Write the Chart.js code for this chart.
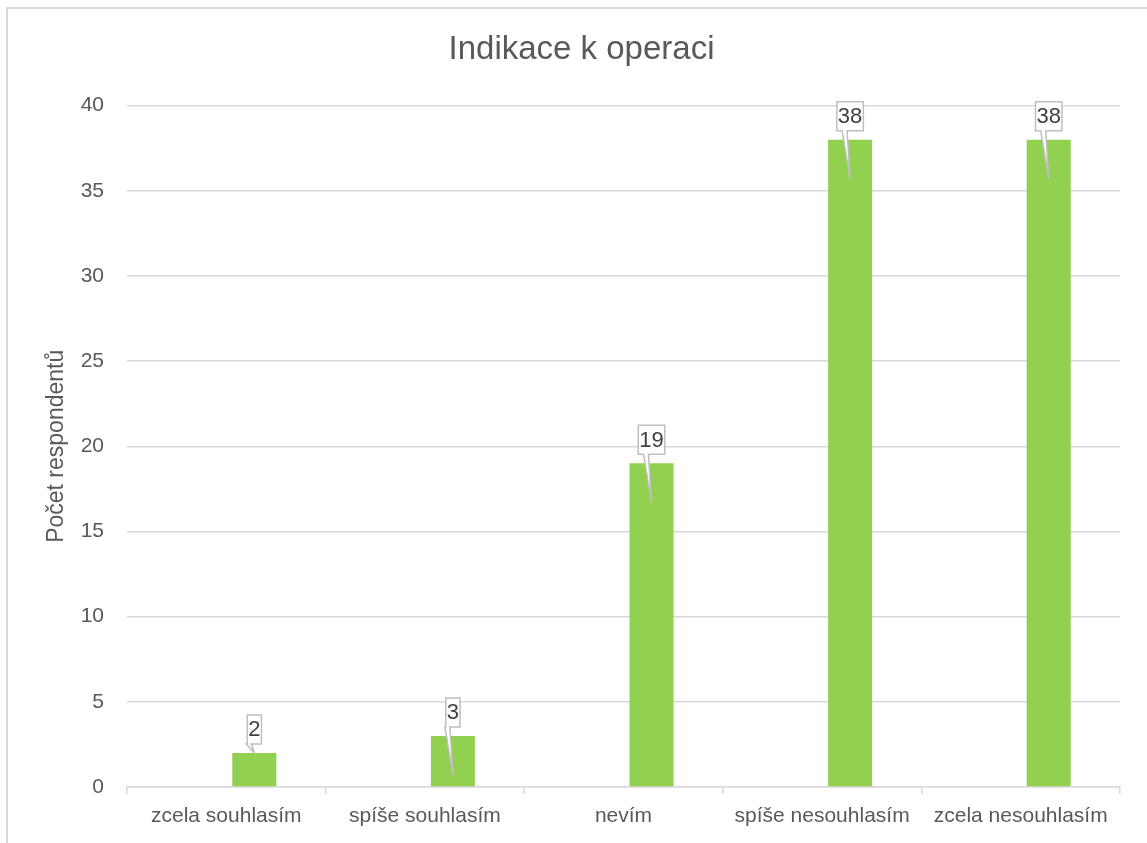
<!DOCTYPE html>
<html>
<head>
<meta charset="utf-8">
<title>Indikace k operaci</title>
<script src="https://cdn.jsdelivr.net/npm/chart.js@4.4.1/dist/chart.umd.min.js"></script>
<style>
  html, body { margin: 0; padding: 0; background: #fff; overflow: hidden; }
  #box { position: absolute; left: 0; top: 0; width: 1147px; height: 843px; }
</style>
</head>
<body>
<div id="box"><canvas id="chart1"></canvas></div>
<script>
var categories = ["zcela souhlasím", "spíše souhlasím", "nevím", "spíše nesouhlasím", "zcela nesouhlasím"];
var respondents = [2, 3, 19, 38, 38];
var emptySeries = [null, null, null, null, null];
var yTicks = [0, 5, 10, 15, 20, 25, 30, 35, 40];

var textColor = "#595959";
var gridColor = "#d9d9d9";
var fontName = "'Liberation Sans', Arial, sans-serif";

// white page + light frame round the chart
var framePlugin = {
  id: "frame",
  beforeDraw: function(chart) {
    var ctx = chart.ctx;
    ctx.save();
    ctx.fillStyle = "#fff";
    ctx.fillRect(0, 0, chart.width, chart.height);
    ctx.strokeStyle = gridColor;
    ctx.lineWidth = 2;
    ctx.strokeRect(7, 8, chart.width + 50, chart.height + 50);
    ctx.restore();
  }
};

// value callouts: box above the bar with a thin tail pointing into it
var calloutPlugin = {
  id: "callouts",
  afterDatasetsDraw: function(chart) {
    var ctx = chart.ctx;
    var meta = chart.getDatasetMeta(1);
    ctx.save();
    ctx.font = "22px " + fontName;
    meta.data.forEach(function(bar, i) {
      var txt = String(chart.data.datasets[1].data[i]);
      var w = ctx.measureText(txt).width + 2;
      var h = 29;
      var cx = bar.x;
      var bottom = bar.y - 9;
      var top = bottom - h;
      var left = cx - w / 2;
      var right = cx + w / 2;
      var tipY = (bar.base - bar.y > 50) ? bar.y + 39 : bar.y;

      ctx.beginPath();
      ctx.moveTo(left, top);
      ctx.lineTo(right, top);
      ctx.lineTo(right, bottom);
      ctx.lineTo(cx - 3, bottom);
      ctx.lineTo(cx, tipY);
      ctx.lineTo(cx - 8, bottom);
      ctx.lineTo(left, bottom);
      ctx.closePath();
      ctx.fillStyle = "#fff";
      ctx.fill();
      ctx.strokeStyle = "#bfbfbf";
      ctx.lineWidth = 1.5;
      ctx.stroke();

      ctx.fillStyle = "#404040";
      ctx.textAlign = "center";
      ctx.textBaseline = "middle";
      ctx.fillText(txt, cx, top + h / 2 + 1);
    });
    ctx.restore();
  }
};

var config1 = {
  type: "bar",
  data: {
    labels: categories,
    datasets: [
      {
        // empty series keeps the green bars off the category centre
        data: emptySeries,
        backgroundColor: "rgba(0,0,0,0)",
        categoryPercentage: 0.564,
        barPercentage: 0.786
      },
      {
        data: respondents,
        backgroundColor: "#92d050",
        categoryPercentage: 0.564,
        barPercentage: 0.786
      }
    ]
  },
  options: {
    responsive: true,
    maintainAspectRatio: false,
    animation: false,
    layout: { padding: { left: 43, right: 27, top: 12, bottom: 0 } },
    plugins: {
      legend: { display: false },
      tooltip: { enabled: false },
      title: {
        display: true,
        text: "Indikace k operaci",
        color: textColor,
        font: { family: fontName, size: 33, weight: "normal" },
        padding: { top: 18, bottom: 36 }
      }
    },
    scales: {
      x: {
        grid: {
          offset: true,
          drawOnChartArea: false,
          drawTicks: true,
          tickLength: 7,
          color: gridColor,
          lineWidth: 1.5
        },
        border: { display: true, color: gridColor, width: 1.5 },
        ticks: {
          color: textColor,
          font: { family: fontName, size: 21 },
          padding: 10,
          maxRotation: 0,
          autoSkip: false
        },
        afterFit: function(scale) { scale.height = 56; }
      },
      y: {
        min: 0,
        max: 40,
        afterBuildTicks: function(scale) {
          scale.ticks = yTicks.map(function(v) { return { value: v }; });
        },
        grid: { color: gridColor, lineWidth: 1.5, drawTicks: false },
        border: { display: false },
        ticks: {
          color: textColor,
          font: { family: fontName, size: 21 },
          padding: 23
        },
        title: {
          display: true,
          text: "Počet respondentů",
          color: textColor,
          font: { family: fontName, size: 23 },
          padding: 0
        },
        afterFit: function(scale) { scale.width = 84; }
      }
    }
  },
  plugins: [framePlugin, calloutPlugin]
};

var ctx1 = document.getElementById("chart1").getContext("2d");
window.myBar = new Chart(ctx1, config1);
</script>
</body>
</html>
